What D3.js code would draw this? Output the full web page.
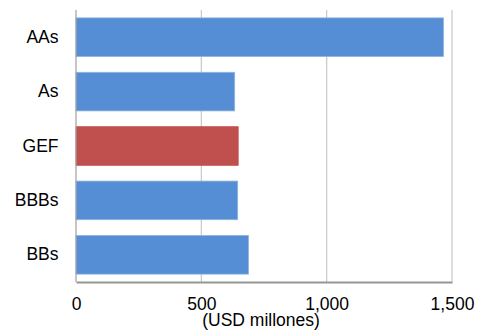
<!DOCTYPE html>
<html><head><meta charset="utf-8">
<script src="https://cdn.jsdelivr.net/npm/d3@7"></script>
<style>body{margin:0;background:#fff}svg{display:block}text{font-family:"Liberation Sans",Arial,sans-serif}</style>
</head><body><svg id="c" width="478" height="330"></svg>
<script>
const categories = ["AAs","As","GEF","BBBs","BBs"];
const values = [1466, 633, 647, 645, 688];
const highlight = ["GEF"];
const ticks = [0, 500, 1000, 1500];
const axisTitle = "(USD millones)";

const svg = d3.select("#c");
const m = {l:76, r:26, t:10, b:48};
const W = 478, H = 330;
const FS = 17.5;
const x = d3.scaleLinear().domain([0,1500]).range([m.l, W-m.r]);
const y = d3.scaleBand().domain(categories).range([m.t, H-m.b]).paddingInner(0.29).paddingOuter(0.145);

// gridlines
svg.append("g").selectAll("line").data(ticks.filter(t=>t>0)).join("line")
  .attr("x1",d=>x(d)).attr("x2",d=>x(d)).attr("y1",m.t).attr("y2",H-m.b)
  .attr("stroke","#c8c8c8").attr("stroke-width",1.2);

// bars
svg.append("g").selectAll("rect").data(categories).join("rect")
  .attr("x",x(0)).attr("y",d=>y(d))
  .attr("width",(d,i)=>x(values[i])-x(0)).attr("height",y.bandwidth())
  .attr("fill",d=>highlight.includes(d)?"#C0504D":"#558ED5")
  .attr("stroke",d=>highlight.includes(d)?"#C0504D":"#8DB4E2").attr("stroke-width",0.8);

// left axis line
svg.append("line").attr("x1",x(0)).attr("x2",x(0)).attr("y1",m.t).attr("y2",H-m.b)
  .attr("stroke","#a0a0a0").attr("stroke-width",1.2);
// bottom axis
const xa = d3.axisBottom(x).tickValues(ticks).tickFormat(d3.format(",")).tickSize(0).tickPadding(15.6);
const gx = svg.append("g").attr("transform",`translate(0,${H-m.b})`).call(xa);
gx.attr("font-size",FS).attr("font-family","Liberation Sans, Arial, sans-serif");
gx.select(".domain").attr("stroke","#969696").attr("stroke-width",2);
gx.selectAll("text").attr("fill","#000");

// y axis labels
const ya = d3.axisLeft(y).tickSize(0).tickPadding(17.5);
const gy = svg.append("g").attr("transform",`translate(${x(0)},0)`).call(ya);
gy.attr("font-size",FS).attr("font-family","Liberation Sans, Arial, sans-serif");
gy.select(".domain").remove();
gy.selectAll("text").attr("fill","#000");

svg.append("text").attr("x",(x(0)+x(1500))/2 - 3).attr("y",326).attr("text-anchor","middle")
  .attr("font-size",FS).attr("fill","#000").text(axisTitle);
</script></body></html>
